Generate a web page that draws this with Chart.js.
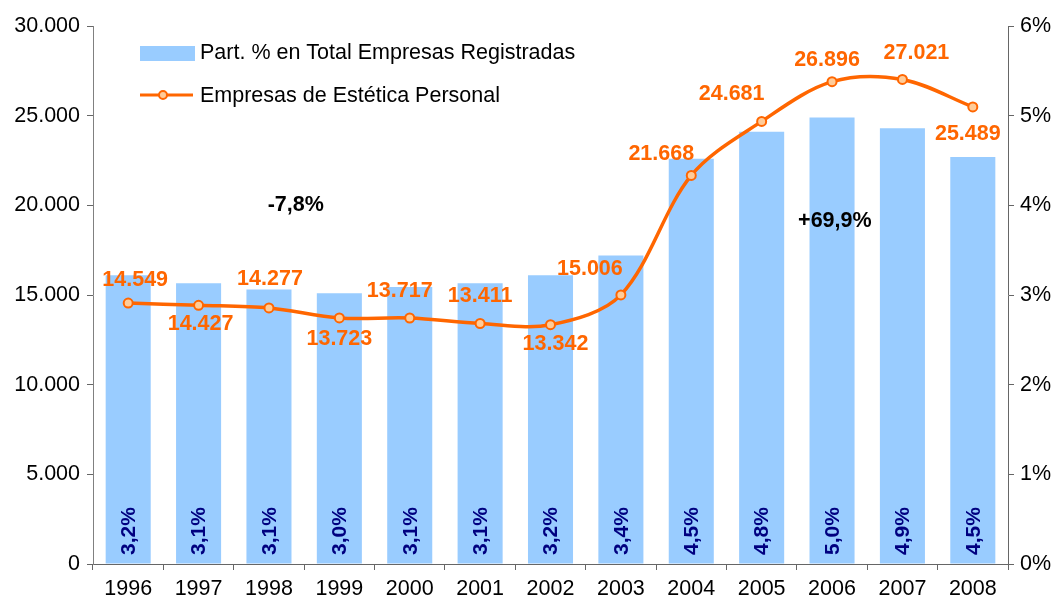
<!DOCTYPE html>
<html>
<head>
<meta charset="utf-8">
<script src="https://cdn.jsdelivr.net/npm/chart.js@4/dist/chart.umd.min.js"></script>
<style>
  body { margin: 0; background: #fff; }
  #wrap { width: 1057px; height: 606px; position: relative; }
</style>
</head>
<body>
<div id="wrap"><canvas id="mycanvas"></canvas></div>
<script>
// data
var years = ['1996','1997','1998','1999','2000','2001','2002','2003','2004','2005','2006','2007','2008'];
var partPct = [3.22, 3.13, 3.06, 3.02, 3.09, 3.13, 3.22, 3.44, 4.52, 4.82, 4.98, 4.86, 4.54];
var empresas = [14549, 14427, 14277, 13723, 13717, 13411, 13342, 15006, 21668, 24681, 26896, 27021, 25489];
var leftTicks = [0, 5000, 10000, 15000, 20000, 25000, 30000];
var rightTicks = [0, 1, 2, 3, 4, 5, 6];
var notes = [
  { text: '-7,8%', at: 2.38, value: 20000 },
  { text: '+69,9%', at: 10.04, value: 19100 }
];

// where each orange label sits relative to its marker
var labelShift = [[7,-23],[2,19],[1,-29],[0,21],[-10,-27],[0,-27],[5,19],[-31,-26],[-30,-21],[-30,-27],[-5,-22],[14,-26],[-5,27]];

var FONT = "'Liberation Sans', Arial, sans-serif";
var ORANGE = '#FF6600';
var BLUE = '#99CCFF';

function miles(n) {
  return String(n).replace(/\B(?=(\d{3})+(?!\d))/g, '.');
}
function pct(v) {
  return v.toFixed(1).replace('.', ',') + '%';
}

var labelsPlugin = {
  id: 'labels',
  afterDatasetsDraw: function(chart) {
    var ctx = chart.ctx;
    var bars = chart.getDatasetMeta(0).data;
    var pts = chart.getDatasetMeta(1).data;
    var yAxis = chart.scales.y;
    var xAxis = chart.scales.x;
    ctx.save();

    // vertical % labels inside the bars
    ctx.font = 'bold 21px ' + FONT;
    ctx.fillStyle = '#000080';
    ctx.textAlign = 'left';
    ctx.textBaseline = 'middle';
    bars.forEach(function(b, i) {
      ctx.save();
      ctx.translate(b.x + 1, chart.chartArea.bottom - 9);
      ctx.rotate(-Math.PI / 2);
      ctx.fillText(pct(partPct[i]), 0, 0);
      ctx.restore();
    });

    // orange value labels
    ctx.font = 'bold 21.5px ' + FONT;
    ctx.fillStyle = ORANGE;
    ctx.textAlign = 'center';
    pts.forEach(function(p, i) {
      ctx.fillText(miles(empresas[i]), p.x + labelShift[i][0], p.y + labelShift[i][1]);
    });

    // growth notes
    ctx.fillStyle = '#000';
    notes.forEach(function(n) {
      ctx.fillText(n.text, xAxis.getPixelForValue(n.at), yAxis.getPixelForValue(n.value));
    });

    // legend
    ctx.font = '21.5px ' + FONT;
    ctx.textAlign = 'left';
    ctx.fillStyle = BLUE;
    ctx.fillRect(140, 46, 55, 15);
    ctx.fillStyle = '#000';
    ctx.fillText(chart.data.datasets[0].label, 200, 53);
    ctx.strokeStyle = ORANGE;
    ctx.lineWidth = 3;
    ctx.beginPath();
    ctx.moveTo(140, 95);
    ctx.lineTo(193, 95);
    ctx.stroke();
    ctx.beginPath();
    ctx.arc(163, 95, 4, 0, Math.PI * 2);
    ctx.fillStyle = '#FFCC99';
    ctx.fill();
    ctx.lineWidth = 2;
    ctx.stroke();
    ctx.fillStyle = '#000';
    ctx.fillText(chart.data.datasets[1].label, 200, 96);
    ctx.restore();
  }
};

var chartdata = {
  labels: years,
  datasets: [
    {
      type: 'bar',
      label: 'Part. % en Total Empresas Registradas',
      data: partPct,
      yAxisID: 'y1',
      backgroundColor: BLUE,
      borderWidth: 0,
      barPercentage: 0.64,
      categoryPercentage: 1,
      order: 2
    },
    {
      type: 'line',
      label: 'Empresas de Estética Personal',
      data: empresas,
      yAxisID: 'y',
      borderColor: ORANGE,
      borderWidth: 3.5,
      tension: 0.33,
      pointRadius: 4.5,
      pointBackgroundColor: '#FFCC99',
      pointBorderColor: ORANGE,
      pointBorderWidth: 2,
      order: 1
    }
  ]
};

var ctx = document.getElementById('mycanvas');

var combo = new Chart(ctx, {
  data: chartdata,
  plugins: [labelsPlugin],
  options: {
    responsive: true,
    maintainAspectRatio: false,
    animation: false,
    layout: { padding: { top: 26, left: 0, right: 0, bottom: 0 } },
    plugins: {
      legend: { display: false },
      tooltip: { enabled: false }
    },
    scales: {
      x: {
        offset: true,
        grid: { offset: true, drawOnChartArea: false, tickLength: 6, color: '#666' },
        border: { color: '#666' },
        ticks: { color: '#000', font: { family: FONT, size: 21.5 }, padding: 6, maxRotation: 0, autoSkip: false },
        afterFit: function(s) { s.height = 42; }
      },
      y: {
        position: 'left',
        min: 0,
        max: 30000,
        afterBuildTicks: function(s) { s.ticks = leftTicks.map(function(v) { return { value: v }; }); },
        grid: { drawOnChartArea: false, tickLength: 6, color: '#666' },
        border: { color: '#808080' },
        ticks: {
          color: '#000',
          font: { family: FONT, size: 21.5 },
          padding: 7,
          callback: function(v) { return miles(v); }
        },
        afterFit: function(s) { s.width = 93; }
      },
      y1: {
        position: 'right',
        min: 0,
        max: 6,
        afterBuildTicks: function(s) { s.ticks = rightTicks.map(function(v) { return { value: v }; }); },
        grid: { drawOnChartArea: false, tickLength: 6, color: '#666' },
        border: { color: '#666' },
        ticks: {
          color: '#000',
          font: { family: FONT, size: 21.5 },
          padding: 6,
          callback: function(v) { return v + '%'; }
        },
        afterFit: function(s) { s.width = 49; }
      }
    }
  }
});
</script>
</body>
</html>
